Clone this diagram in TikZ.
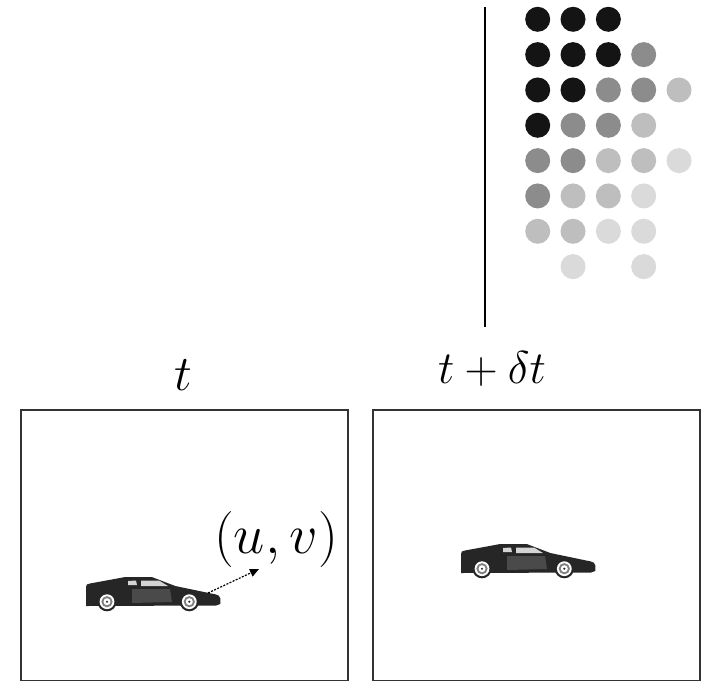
\documentclass[tikz,border=0pt]{standalone}
\usepackage{fix-cm}
\usetikzlibrary{arrows.meta}

\definecolor{dotA}{HTML}{141414}
\definecolor{dotB}{HTML}{8C8C8C}
\definecolor{dotC}{HTML}{BEBEBE}
\definecolor{dotD}{HTML}{DADADA}
\definecolor{framegray}{HTML}{333333}
\definecolor{carbody}{HTML}{262626}
\definecolor{cardoor}{HTML}{4A4A4A}
\definecolor{carglass}{HTML}{D4D4D4}

\tikzset{
  frame/.style={draw=framegray, line width=1.8pt},
  lbl/.style={inner sep=0pt, anchor=base, font=\fontsize{50}{60}\selectfont},
  uvlbl/.style={inner sep=0pt, anchor=base, font=\fontsize{56}{66}\selectfont},
  motion/.style={line width=1.2pt, dash pattern=on 2pt off 1.4pt,
    -{Triangle[length=9pt,width=8pt]}},
  wheel/.pic={
    \fill[carbody] (0,0) circle (9.6);
    \fill[white] (0,0) circle (7.4);
    \fill[gray] (0,0) circle (5.6);
    \fill[white] (0,0) circle (3.5);
    \fill[carbody] (0,0) circle (1.2);
  },
  car/.pic={
    % body silhouette
    \fill[carbody] (0,0) -- (0,-19) .. controls (0,-21.5) and (1,-22) .. (4,-22.5)
      -- (36,-28.4) .. controls (38,-28.9) .. (42,-28.9) -- (66,-28.9)
      -- (89.3,-20) -- (130,-11.5) .. controls (133,-10.5) .. (134.3,-7.7)
      -- (134.3,-2) -- (130,-0.5) -- cycle;
    % door panel
    \fill[cardoor] (46,-17) -- (84,-17) -- (86,-4) -- (46,-3) -- cycle;
    % windows
    \fill[carglass] (42,-25) -- (50,-25.5) -- (51,-21) -- (42,-21) -- cycle;
    \fill[carglass] (55,-25.5) -- (73,-25.5) -- (82,-20) -- (55,-20) -- cycle;
    % wheels
    \pic at (21,-4.3) {wheel};
    \pic at (103.3,-4.3) {wheel};
  }
}

\begin{document}
\begin{tikzpicture}[x=1pt, y=-1pt]
  % canvas
  \fill[white] (0,0) rectangle (703,680);
  \useasboundingbox (0,0) rectangle (703,680);

  % separator line
  \coordinate (septop) at (485,7);
  \coordinate (sepbot) at (485,327);
  \draw[line width=1.8pt, black] (septop) -- (sepbot);

  % grey-level dot pattern
  \foreach \c/\r/\col in {
      0/0/dotA, 1/0/dotA, 2/0/dotA,
      0/1/dotA, 1/1/dotA, 2/1/dotA, 3/1/dotB,
      0/2/dotA, 1/2/dotA, 2/2/dotB, 3/2/dotB, 4/2/dotC,
      0/3/dotA, 1/3/dotB, 2/3/dotB, 3/3/dotC,
      0/4/dotB, 1/4/dotB, 2/4/dotC, 3/4/dotC, 4/4/dotD,
      0/5/dotB, 1/5/dotC, 2/5/dotC, 3/5/dotD,
      0/6/dotC, 1/6/dotC, 2/6/dotD, 3/6/dotD,
      1/7/dotD, 3/7/dotD}
    \fill[\col] ({537.7+35.33*\c},{19.3+35.33*\r}) circle (12.5);

  % time labels
  \node[lbl] (tlabel) at (183,390) {$t$};
  \node[lbl, font=\fontsize{46}{56}\selectfont] (tdlabel) at (492,383) {$t+\delta t$};

  % frames
  \draw[frame] (21,410) rectangle (348,681);
  \draw[frame] (373,410) rectangle (700,681);

  % cars
  \pic (carA) at (86,606) {car};
  \pic (carB) at (461,573) {car};

  % motion vector
  \node[uvlbl] (uv) at (276,553) {$(u,v)$};
  \coordinate (mvstart) at (208,593);
  \coordinate (mvend) at (259,569);
  \draw[motion] (mvstart) -- (mvend);
\end{tikzpicture}
\end{document}
